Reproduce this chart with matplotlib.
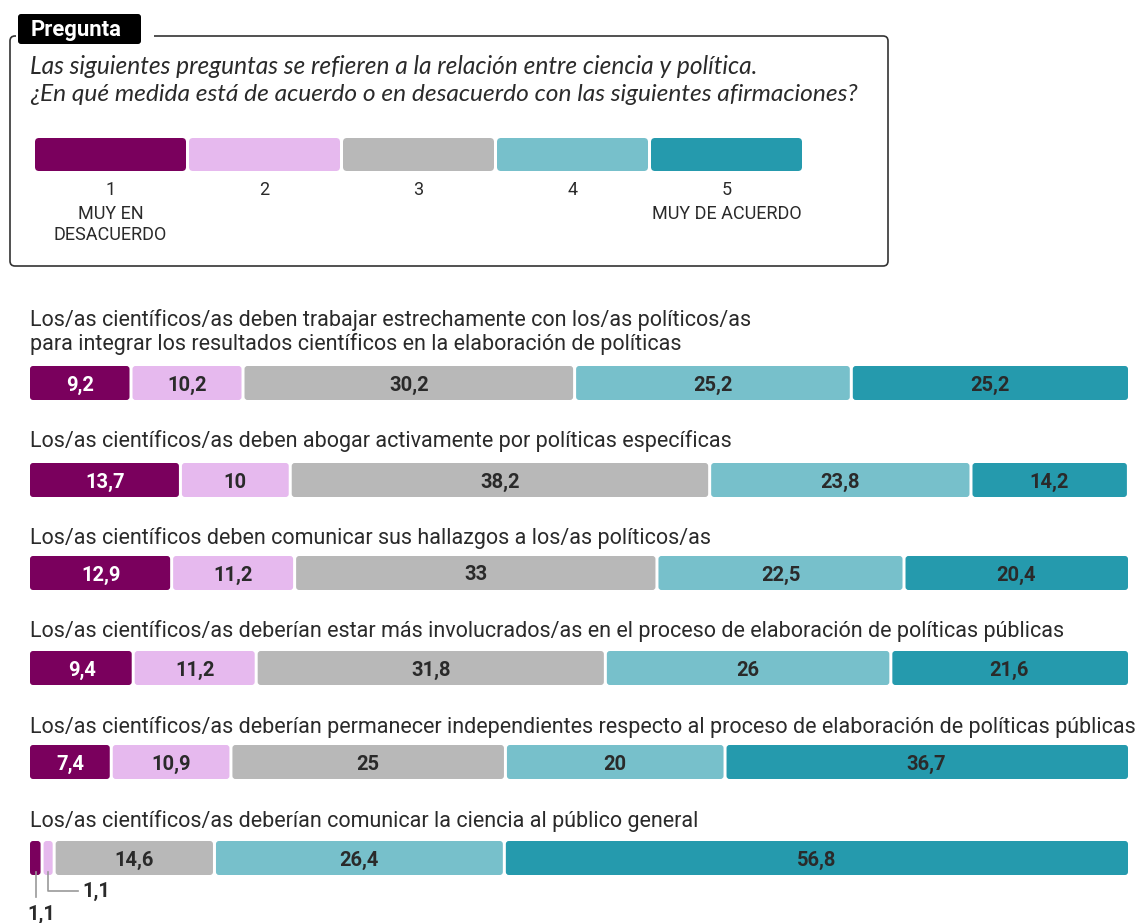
import matplotlib
matplotlib.use("Agg")
import matplotlib.pyplot as plt
from matplotlib.patches import FancyBboxPatch
from matplotlib import font_manager
import matplotlib.transforms as mtransforms

# ---------------- data ----------------
scale_codes = ["1", "2", "3", "4", "5"]
scale_names = [["MUY EN", "DESACUERDO"], [], [], [], ["MUY DE ACUERDO"]]
colors = ["#7A005D", "#E6B9EE", "#B8B8B8", "#77C0CB", "#259AAD"]
text_colors = ["white", "#2a2a2a", "#2a2a2a", "#2a2a2a", "#2a2a2a"]

intro_lines = [
    "Las siguientes preguntas se refieren a la relación entre ciencia y política.",
    "¿En qué medida está de acuerdo o en desacuerdo con las siguientes afirmaciones?",
]

questions = [
    "Los/as científicos/as deben trabajar estrechamente con los/as políticos/as\npara integrar los resultados científicos en la elaboración de políticas",
    "Los/as científicos/as deben abogar activamente por políticas específicas",
    "Los/as científicos deben comunicar sus hallazgos a los/as políticos/as",
    "Los/as científicos/as deberían estar más involucrados/as en el proceso de elaboración de políticas públicas",
    "Los/as científicos/as deberían permanecer independientes respecto al proceso de elaboración de políticas públicas",
    "Los/as científicos/as deberían comunicar la ciencia al público general",
]

trabajar = [9.2, 10.2, 30.2, 25.2, 25.2]
abogar = [13.7, 10, 38.2, 23.8, 14.2]
comunicar_politicos = [12.9, 11.2, 33, 22.5, 20.4]
involucrados = [9.4, 11.2, 31.8, 26, 21.6]
independientes = [7.4, 10.9, 25, 20, 36.7]
publico = [1.1, 1.1, 14.6, 26.4, 56.8]
rows = [trabajar, abogar, comunicar_politicos, involucrados, independientes, publico]

# ---------------- layout ----------------
W, H = 1141, 923
fig = plt.figure(figsize=(W / 100, H / 100), dpi=100)
names = {f.name for f in font_manager.fontManager.ttflist}
NARROW = "Liberation Sans Narrow" if "Liberation Sans Narrow" in names else "Roboto"
DARK = "#2a2a2a"

bg = fig.add_axes([0, 0, 1, 1])
bg.set_xlim(0, W)
bg.set_ylim(H, 0)
bg.axis("off")

renderer = fig.canvas.get_renderer()


def fit(t, target):
    w = t.get_window_extent(renderer).width
    t.set_fontsize(t.get_fontsize() * target / w)


def fmt(v):
    s = f"{v:.1f}".replace(".", ",")
    return s[:-2] if s.endswith(",0") else s


# --- legend box ---
box = FancyBboxPatch((10, 36), 878, 230, boxstyle="round,pad=0,rounding_size=5",
                     fc="white", ec="#333333", lw=1.2)
bg.add_patch(box)
bg.add_patch(plt.Rectangle((16, 30), 138, 12, fc="white", ec="none", zorder=3))
bg.add_patch(FancyBboxPatch((18, 14), 123, 30, boxstyle="round,pad=0,rounding_size=3",
                            fc="black", ec="none", zorder=4))
tp = bg.text(31, 36, "Pregunta", color="white", fontsize=16, fontweight="bold",
             family=NARROW, va="baseline", ha="left", zorder=5)
fit(tp, 91)

for i, (line, base) in enumerate(zip(intro_lines, [74, 101])):
    t = bg.text(30, base, line, fontsize=14, style="italic", family="Lato",
                color=DARK, va="baseline", ha="left")
    fit(t, [733, 832][i])

leg_x0, leg_w, leg_gap = 35, 151, 3
name_bases = [219, 240]
for i, code in enumerate(scale_codes):
    x = leg_x0 + i * (leg_w + leg_gap)
    bg.add_patch(FancyBboxPatch((x, 138), leg_w, 33, boxstyle="round,pad=0,rounding_size=4",
                                fc=colors[i], ec="none"))
    cx = x + leg_w / 2
    bg.text(cx, 195, code, ha="center", va="baseline", fontsize=13,
            family=NARROW, color=DARK)
    for j, nm in enumerate(scale_names[i]):
        bg.text(cx, name_bases[j], nm, ha="center", va="baseline", fontsize=13,
                family=NARROW, color=DARK)

# --- rows ---
bar_x0, bar_x1 = 30, 1128
bar_tops = [366, 463, 556, 651, 745, 841]
bar_h = 34
title_bases = [350, 447, 544, 637, 733, 827]
gap_px = 3
unit = (bar_x1 - bar_x0) / 100.0
gap = gap_px / unit
r = 3.0 / unit
asp = unit / bar_h

title_texts = []
for k, (vals, q) in enumerate(zip(rows, questions)):
    top = bar_tops[k]
    ax = fig.add_axes([bar_x0 / W, 1 - (top + bar_h) / H, (bar_x1 - bar_x0) / W, bar_h / H])
    ax.set_xlim(0, 100)
    ax.set_ylim(0, 1)
    ax.axis("off")
    cum = 0
    n = len(vals)
    for i, v in enumerate(vals):
        a = cum + (gap / 2 if i > 0 else 0)
        b = cum + v - (gap / 2 if i < n - 1 else 0)
        ax.add_patch(FancyBboxPatch((a, 0), b - a, 1,
                                    boxstyle=f"round,pad=0,rounding_size={r}",
                                    mutation_aspect=asp, fc=colors[i], ec="none",
                                    clip_on=False))
        if v >= 3:
            ax.text(cum + v / 2, 0.5, fmt(v), ha="center", va="center_baseline",
                    fontsize=14.5, fontweight="bold", family=NARROW, color=text_colors[i])
        cum += v
    if k == len(rows) - 1:
        trans = mtransforms.blended_transform_factory(ax.transData, ax.transAxes)
        c0 = vals[0] / 2
        c1 = vals[0] + vals[1] / 2
        ax.plot([c0, c0], [0.1, -0.65], color="#999999", lw=1.2, transform=trans, clip_on=False)
        ax.plot([c1, c1, c1 + 2.7], [0.1, -0.47, -0.47], color="#999999", lw=1.2,
                transform=trans, clip_on=False)
        ax.text(c0 + 0.45, -0.88, fmt(vals[0]), ha="center", va="top", fontsize=14.5,
                fontweight="bold", family=NARROW, color=DARK, transform=trans, clip_on=False)
        ax.text(c1 + 3.1, -0.47, fmt(vals[1]), ha="left", va="center", fontsize=14.5,
                fontweight="bold", family=NARROW, color=DARK, transform=trans, clip_on=False)
    t = bg.text(30, title_bases[k], q, ha="left", va="baseline", fontsize=16,
                family=NARROW, color=DARK, linespacing=1.12)
    title_texts.append(t)

fit(title_texts[4], 1107)
fs = title_texts[4].get_fontsize()
for t in title_texts:
    t.set_fontsize(fs)

fig.savefig("out.png", dpi=100)
